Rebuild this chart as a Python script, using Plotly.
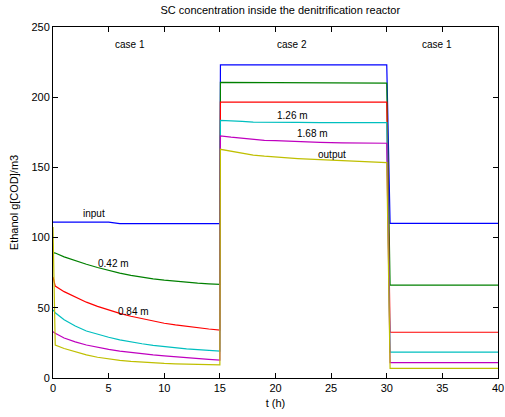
import plotly.graph_objects as go

# time points (h)
t = [0, 0.2, 1, 2, 3, 4, 5, 6, 7, 8, 9, 10, 11, 12, 13, 14, 15,
     15.05, 16, 17, 18, 19, 20, 22, 24, 26, 28, 30,
     30.3, 35, 40]

# series values (g[COD]/m3)
input_vals = [111, 111, 111, 111, 111, 111, 111, 110, 110, 110, 110, 110, 110, 110, 110, 110, 110,
              223, 223, 223, 223, 223, 223, 223, 223, 223, 223, 223,
              110.2, 110.2, 110.2]
m042_vals = [89.3, 89.0, 86.3, 83.5, 81.0, 78.7, 76.5, 74.7, 73.1, 71.7, 70.6, 69.7, 68.9, 68.2, 67.6, 67.1, 66.7,
             210.5, 210.5, 210.5, 210.5, 210.0, 210.0, 210.0, 210.0, 210.0, 210.0, 210.0,
             66.1, 66.1, 66.1]
m084_vals = [72.0, 65.5, 61.5, 57.5, 54.0, 51.0, 48.4, 46.0, 44.0, 42.2, 40.6, 39.0, 37.8, 36.7, 35.7, 34.9, 34.2,
             196.5, 196.5, 196.5, 196.5, 196.5, 196.5, 196.5, 196.5, 196.5, 196.5, 196.5,
             32.6, 32.6, 32.6]
m126_vals = [48.5, 46.5, 41.5, 37.0, 33.5, 31.0, 29.0, 27.2, 25.7, 24.4, 23.3, 22.3, 21.5, 20.8, 20.2, 19.6, 19.2,
             183.5, 183.3, 182.8, 182.3, 182.1, 182.0, 182.0, 181.9, 181.9, 181.9, 181.9,
             18.4, 18.4, 18.4]
m168_vals = [33.0, 31.8, 28.5, 25.7, 23.5, 21.8, 20.4, 19.2, 18.1, 17.2, 16.4, 15.7, 15.0, 14.4, 13.8, 13.3, 12.8,
             172.4, 171.5, 170.6, 169.8, 169.3, 169.0, 168.3, 167.8, 167.5, 167.3, 167.2,
             11.0, 11.0, 11.0]
output_vals = [107.5, 23.5, 21.0, 18.5, 16.5, 14.8, 13.5, 12.6, 11.9, 11.3, 10.8, 10.4, 10.1, 9.8, 9.6, 9.4, 9.3,
               162.9, 161.5, 160.0, 158.8, 158.0, 157.3, 156.3, 155.5, 154.8, 154.0, 153.4,
               6.9, 6.9, 6.9]

series_names = ["input", "0.42 m", "0.84 m", "1.26 m", "1.68 m", "output"]
series_vals = [input_vals, m042_vals, m084_vals, m126_vals, m168_vals, output_vals]
series_colors = ["#0000ff", "#008000", "#ff0000", "#00bfbf", "#bf00bf", "#bfbf00"]

# in-plot text labels
label_texts = ["case 1", "case 2", "case 1", "input", "0.42 m", "0.84 m", "1.26 m", "1.68 m", "output"]
label_x = [6.9, 21.5, 34.5, 3.7, 5.4, 7.2, 21.5, 23.3, 25.1]
label_y = [237.5, 237.5, 237.5, 117.5, 81.9, 47.7, 187.3, 173.8, 159.5]

xticks = [0, 5, 10, 15, 20, 25, 30, 35, 40]
yticks = [0, 50, 100, 150, 200, 250]

fig = go.Figure()
for name, vals, col in zip(series_names, series_vals, series_colors):
    fig.add_trace(go.Scatter(x=t, y=vals, mode="lines", name=name,
                             line=dict(color=col, width=1.2), showlegend=False))

for txt, x, y in zip(label_texts, label_x, label_y):
    fig.add_annotation(x=x, y=y, xref="x", yref="y", text=txt, showarrow=False,
                       font=dict(size=10, color="black"))

font_family = "Liberation Sans, Arial, sans-serif"
fig.update_layout(
    width=505, height=417,
    margin=dict(l=53, r=7, t=27, b=39),
    paper_bgcolor="white", plot_bgcolor="white",
    font=dict(family=font_family, size=11, color="black"),
    title=dict(text="SC concentration inside the denitrification reactor",
               x=0.555, xanchor="center", y=0.985, yanchor="top",
               font=dict(size=11, family=font_family)),
)
axis_common = dict(showgrid=False, zeroline=False, showline=True, linecolor="black",
                   linewidth=1, mirror="ticks", ticks="inside", ticklen=5,
                   tickcolor="black", tickfont=dict(size=11), automargin=False)
fig.update_xaxes(range=[0, 40], tickvals=xticks, ticktext=[str(v) for v in xticks],
                 title=dict(text="t (h)", standoff=6, font=dict(size=11)), **axis_common)
fig.update_yaxes(range=[0, 250], tickvals=yticks, ticktext=[str(v) for v in yticks],
                 title=dict(text="Ethanol g[COD]/m3", standoff=10, font=dict(size=11)), **axis_common)

fig.write_html("out.html", config={"displayModeBar": False},
               post_script="document.body.style.margin='0';document.body.style.padding='0';")
